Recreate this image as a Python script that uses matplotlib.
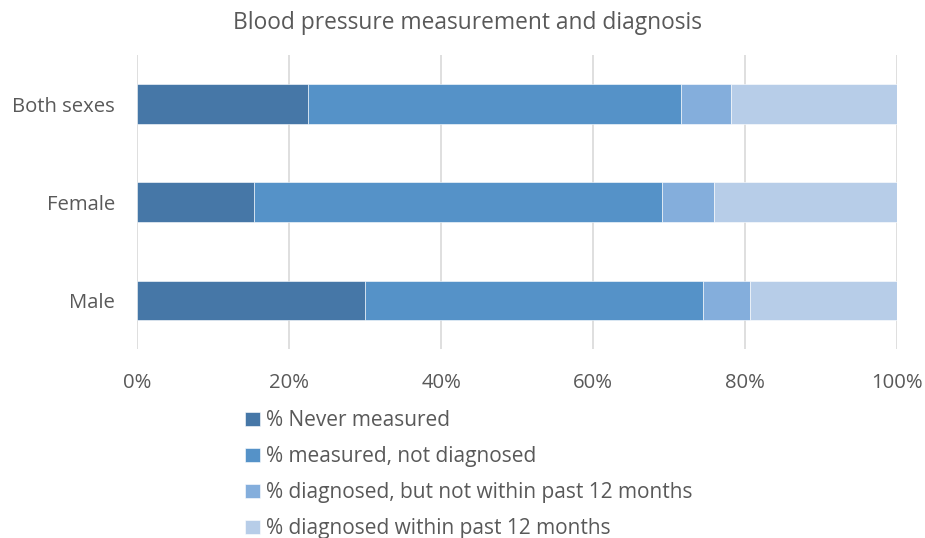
import matplotlib
matplotlib.use("Agg")
import matplotlib.pyplot as plt
import numpy as np

plt.rcParams['font.family'] = ['Open Sans', 'DejaVu Sans']

categories = ["Both sexes", "Female", "Male"]
series_names = ["% Never measured", "% measured, not diagnosed",
                "% diagnosed, but not within past 12 months",
                "% diagnosed within past 12 months"]
never_measured = [22.5, 15.4, 30.0]
measured_not_diag = [49.1, 53.6, 44.5]
diag_not_recent = [6.5, 6.9, 6.1]
diag_recent = [21.9, 24.1, 19.4]
colors = ["#4677A7", "#5592C8", "#84AEDC", "#B7CDE8"]
xticks = [0, 20, 40, 60, 80, 100]

fig = plt.figure(figsize=(9.25, 5.38), dpi=100)
ax = fig.add_axes([0.1486, 0.351, 0.8211, 0.5468])

data = [never_measured, measured_not_diag, diag_not_recent, diag_recent]
y = np.arange(len(categories))
left = np.zeros(len(categories))
for vals, name, c in zip(data, series_names, colors):
    ax.barh(y, vals, left=left, height=0.4, color=c, label=name,
            edgecolor="#FFFFFF", linewidth=0.4, zorder=3)
    left += np.array(vals)

ax.set_xlim(0, 100)
ax.set_ylim(len(categories) - 0.5, -0.5)
ax.set_yticks(y)
ax.set_yticklabels(categories, fontsize=14.6, color="#595959")
ax.set_xticks(xticks)
ax.set_xticklabels([f"{t}%" for t in xticks], fontsize=14.6, color="#595959")
ax.tick_params(length=0, pad=16, axis='y')
ax.tick_params(length=0, pad=17, axis='x')
ax.grid(axis='x', color="#D9D9D9", linewidth=1.2, zorder=0)
for s in ax.spines.values():
    s.set_visible(False)

fig.text(0.505, 0.957, "Blood pressure measurement and diagnosis", ha="center",
         va="center", fontsize=16.4, color="#595959")

handles, labels = ax.get_legend_handles_labels()
leg = fig.legend(handles, labels, loc="upper left", bbox_to_anchor=(0.265, 0.2375),
                 frameon=False, fontsize=15, handlelength=0.72, handleheight=0.72,
                 handletextpad=0.3, labelspacing=0.72, borderpad=0, borderaxespad=0)
for t in leg.get_texts():
    t.set_color("#595959")

fig.savefig("out.png", dpi=100)
